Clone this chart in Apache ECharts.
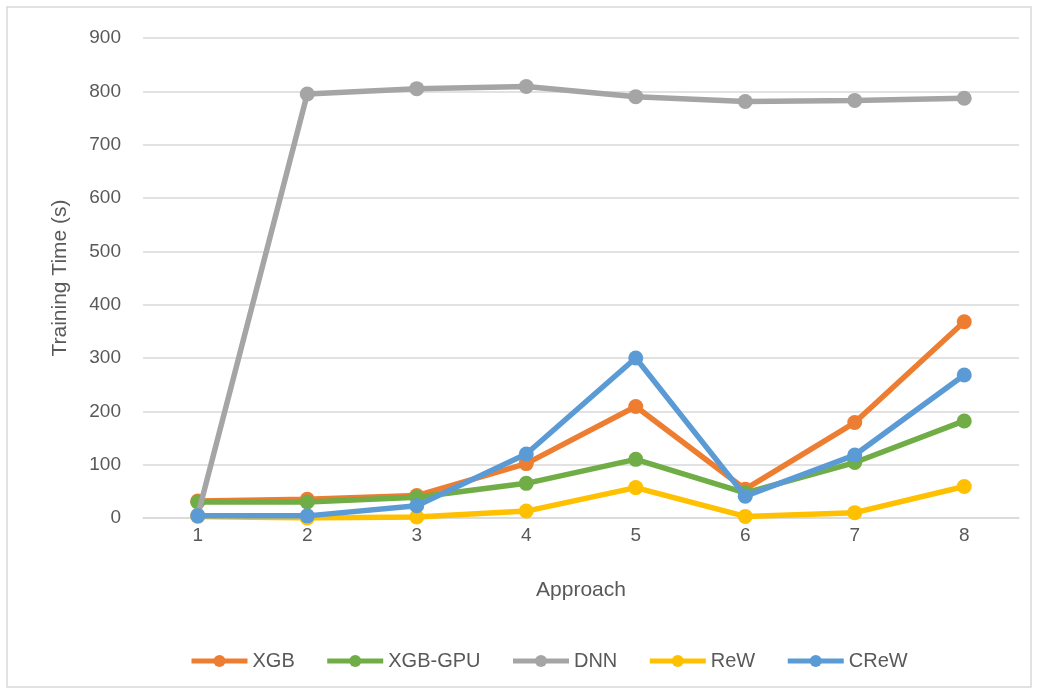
<!DOCTYPE html>
<html>
<head>
<meta charset="utf-8">
<script src="https://cdn.jsdelivr.net/npm/echarts@6/dist/echarts.min.js"></script>
<style>
  html, body { margin: 0; padding: 0; background: #fff; }
  #chart { width: 1039px; height: 694px; }
</style>
</head>
<body>
<div id="chart"></div>
<script>
var approaches = ['1', '2', '3', '4', '5', '6', '7', '8'];
var xgb = [32, 35, 42, 102, 209, 54, 179, 368];
var xgbGpu = [30, 30, 39, 65, 110, 47, 104, 182];
var dnn = [5, 795, 805, 809, 790, 781, 783, 787];
var rew = [3, 0, 2, 13, 57, 3, 10, 59];
var crew = [4, 4, 23, 120, 300, 41, 118, 268];

var seriesNames = ['XGB', 'XGB-GPU', 'DNN', 'ReW', 'CReW'];
var seriesData = [xgb, xgbGpu, dnn, rew, crew];
var colors = ['#ED7D31', '#70AD47', '#A5A5A5', '#FFC000', '#5B9BD5'];

var font = 'Liberation Sans Narrow, Liberation Sans, sans-serif';

var myChart = echarts.init(document.getElementById('chart'));
var option = {
  color: colors,
  textStyle: { fontFamily: font },
  graphic: [
    {
      type: 'rect',
      shape: { x: 7, y: 7, width: 1024, height: 680 },
      style: { fill: 'none', stroke: '#D9D9D9', lineWidth: 1.5 },
      silent: true
    }
  ],
  legend: {
    bottom: 18,
    left: 184,
    itemWidth: 56,
    itemHeight: 15,
    itemGap: 30,
    lineStyle: { width: 5 },
    textStyle: { color: '#595959', fontSize: 20, fontFamily: font },
    data: seriesNames
  },
  grid: {
    left: 143,
    right: 20,
    top: 38,
    bottom: 176
  },
  xAxis: {
    type: 'category',
    data: approaches,
    boundaryGap: true,
    name: 'Approach',
    nameLocation: 'middle',
    nameGap: 62,
    nameTextStyle: { color: '#595959', fontSize: 21, fontFamily: font },
    axisLine: { lineStyle: { color: '#D9D9D9', width: 1.5 } },
    axisTick: { show: false },
    axisLabel: { color: '#595959', fontSize: 19, margin: 8 }
  },
  yAxis: {
    type: 'value',
    min: 0,
    max: 900,
    interval: 100,
    name: 'Training Time (s)',
    nameLocation: 'middle',
    nameGap: 72,
    nameTextStyle: { color: '#595959', fontSize: 21, fontFamily: font },
    axisLine: { show: false },
    axisTick: { show: false },
    axisLabel: { color: '#595959', fontSize: 19, margin: 22 },
    splitLine: { lineStyle: { color: '#D9D9D9', width: 1.5 } }
  },
  series: seriesNames.map(function (name, i) {
    return {
      name: name,
      type: 'line',
      data: seriesData[i],
      symbol: 'circle',
      symbolSize: 15,
      lineStyle: { width: 5.5, color: colors[i] },
      itemStyle: { color: colors[i] },
      z: 2 + i
    };
  })
};
myChart.setOption(option);
</script>
</body>
</html>
